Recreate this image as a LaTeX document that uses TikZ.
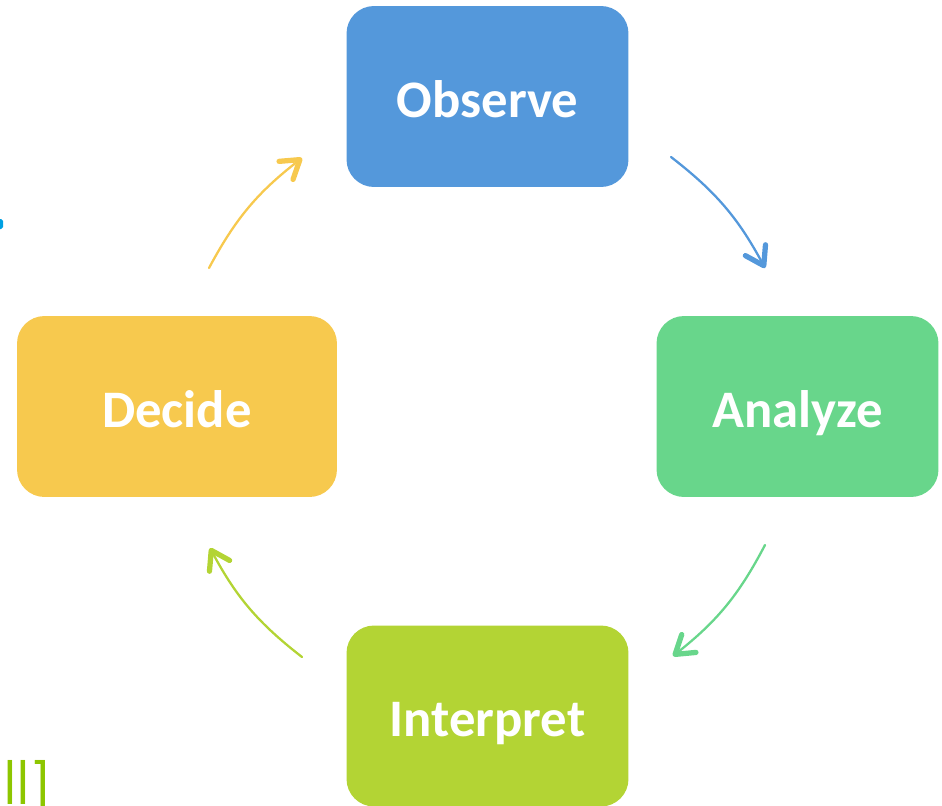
\documentclass[tikz,border=0pt]{standalone}
\usepackage{fontspec}
\setmainfont{Carlito}
\newfontfamily\slidefont{DejaVu Sans}
\usepackage{tikz}
\usetikzlibrary{arrows.meta}
\definecolor{observeblue}{RGB}{84,152,219}
\definecolor{analyzegreen}{RGB}{104,214,139}
\definecolor{interpretlime}{RGB}{179,212,52}
\definecolor{decideyellow}{RGB}{247,201,78}
\definecolor{slidelime}{RGB}{141,198,0}
\definecolor{slideblue}{RGB}{0,160,226}
\tikzstyle{stage}=[rounded corners=0.55cm, inner sep=0, minimum width=5.64cm, minimum height=3.62cm,
                   text height=0.82cm, text depth=0pt,
                   text=white, font=\fontsize{30}{36}\selectfont\bfseries]
\tikzstyle{flow}[1]=[draw=#1, line width=1.3pt, line cap=round,
                     -{Straight Barb[length=10pt, width=13pt, line width=3pt, round]}]

\begin{document}
\begin{tikzpicture}[x=0.02cm, y=-0.02cm]
        \useasboundingbox (0, 0) rectangle (942, 805);
        \clip (0, 0) rectangle (942, 805);
        % the four stages
        \node[stage, fill=observeblue] (O) at (487.5, 96.5) {Observe};
        \node[stage, fill=analyzegreen] (A) at (797.5, 406.5) {Analyze};
        \node[stage, fill=interpretlime] (I) at (487.5, 716) {Interpret};
        \node[stage, fill=decideyellow, minimum width=6.4cm] (D) at (177, 406.5) {Decide};
        % arrow ends, kept clear of the boxes
        \coordinate (O1) at (671, 157);
        \coordinate (A0) at (765, 268);
        \coordinate (A1) at (765, 545);
        \coordinate (I0) at (673, 656);
        \coordinate (I1) at (302, 657);
        \coordinate (D0) at (210, 548);
        \coordinate (D1) at (209, 268);
        \coordinate (O0) at (302, 158);
        \draw[flow=observeblue] (O1) to[bend left=12] (A0);
        \draw[flow=analyzegreen] (A1) to[bend left=12] (I0);
        \draw[flow=interpretlime] (I1) to[bend left=12] (D0);
        \draw[flow=decideyellow] (D1) to[bend left=12] (O0);
        % bits of the slide behind
        \node[anchor=base east, inner sep=0, transform shape, xscale=0.85, text=slidelime,
              font=\slidefont\fontsize{33}{40}\selectfont] (tail) at (50, 804) {all]};
        \fill[slideblue, rounded corners=1pt] (-4, 219) rectangle (3, 229);
    \end{tikzpicture}
\end{document}
